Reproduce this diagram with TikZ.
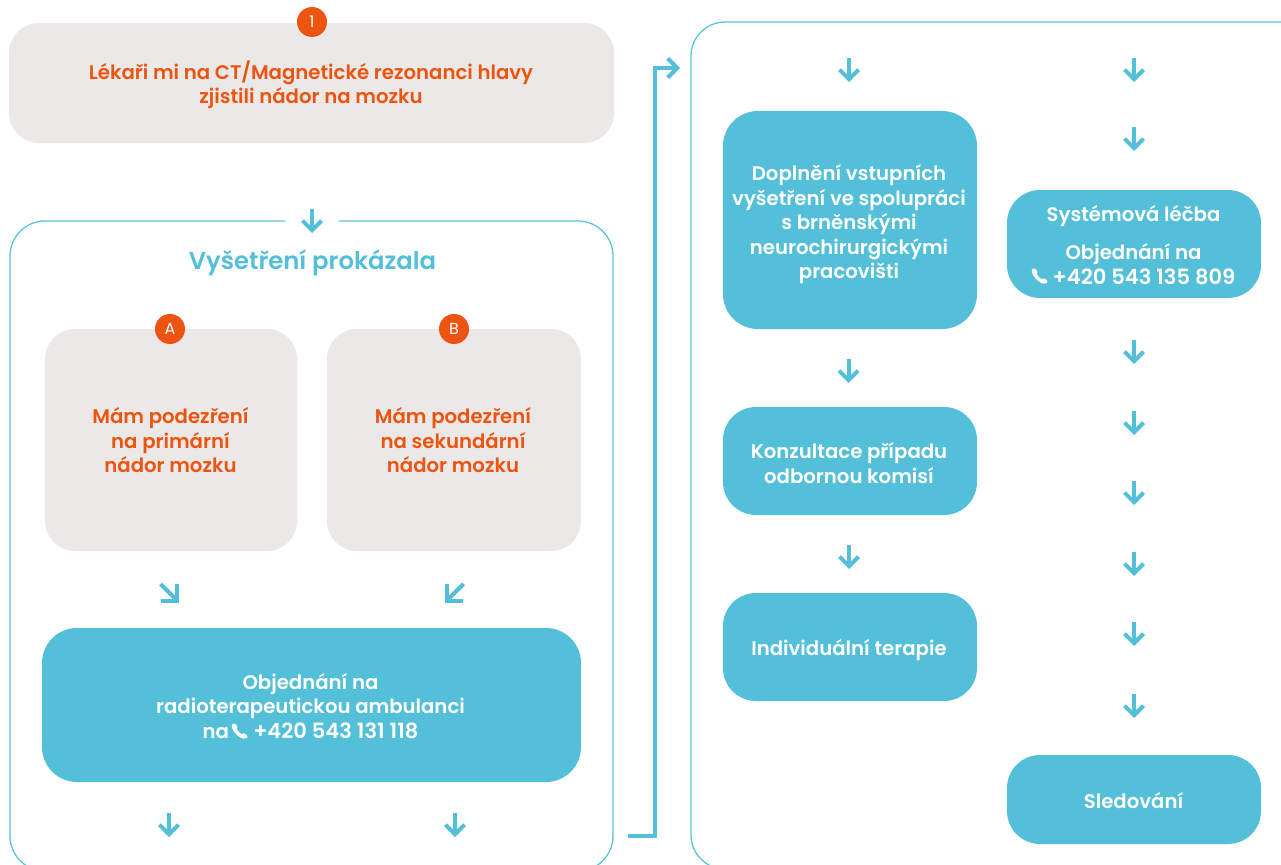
\documentclass[tikz,border=0pt]{standalone}
\usepackage{fontspec}
\setmainfont{Poppins SemiBold}
\newfontfamily\lightfont{Poppins}
\usetikzlibrary{arrows.meta}
\definecolor{teal}{HTML}{54BFD8}
\definecolor{framec}{HTML}{5CC4DC}
\definecolor{greybox}{HTML}{EBE9E7}
\definecolor{orangec}{HTML}{EE5411}
\newcommand{\numf}{\fontsize{21pt}{24.5pt}\selectfont}
\tikzset{
 graybx/.style={fill=greybox,rounded corners=30pt,anchor=center,inner sep=0pt},
 tealbx/.style={fill=teal,rounded corners=33pt,anchor=center,inner sep=0pt},
 graytxt/.style={align=center,text=orangec,font=\fontsize{19.7pt}{24.5pt}\selectfont,inner sep=0pt},
 tealtxt/.style={align=center,text=white,font=\fontsize{19.7pt}{24.5pt}\selectfont,inner sep=0pt},
 badge/.style={circle,fill=orangec,text=white,minimum size=30pt,inner sep=0pt,font=\lightfont\fontsize{16pt}{16pt}\selectfont},
 framep/.style={draw=framec,line width=1.3pt},
 arr/.style={draw=teal,line width=4pt,-{Straight Barb[length=9.5pt,width=19pt]}},
 arrd/.style={draw=teal,line width=4pt,-{Straight Barb[length=11.5pt,width=23pt]}},
}
\newcommand{\downarr}[3]{\coordinate (#1s) at (#2,#3); \coordinate (#1e) at (#2,#3+24); \draw[arr] (#1s) -- (#1e);}
\newcommand{\phoneicon}[2]{\begin{scope}[shift={(#1,#2)}]
 \fill[white] (-7.5,-7) .. controls (-6,-8) and (-5,-7.5) .. (-4,-6.5) -- (-2.6,-4) .. controls (-3,-3) and (-3.2,-2.6) .. (-3.2,-1.8)
 .. controls (-2.4,0) and (-0.2,2.2) .. (1.8,3.2) .. controls (2.4,3) and (2.9,2.4) .. (3.6,2.2) -- (6.6,3.8) .. controls (7.6,4.8) and (7.8,6) .. (6.8,7)
 .. controls (5,8.4) and (2,7.8) .. (-1,5.6) .. controls (-4.5,3) and (-7.4,-0.6) .. (-8,-3.6) .. controls (-8.3,-5) and (-8.2,-6.2) .. (-7.5,-7) -- cycle;
\end{scope}}
\begin{document}
\begin{tikzpicture}[x=1pt,y=-1pt]
\useasboundingbox (0,0) rectangle (1281,864);
\clip (0,0) rectangle (1281,864);
\fill[white] (0,0) rectangle (1281,864);
% frames
\coordinate (f1a) at (285,221);
\coordinate (f1b) at (339,221);
\draw[framep,rounded corners=35pt] (f1a) -- (10,221) -- (10,871) -- (613,871) -- (613,221) -- (f1b);
\draw[framep,rounded corners=34pt] (1330,22) -- (691,22) -- (691,869) -- (1330,869);
% left column
\node[graybx,minimum width=605pt,minimum height=120pt] (top) at (311.5,83) {};
\node[graytxt] (topt) at (311,85) {Lékaři mi na CT/Magnetické rezonanci hlavy\\zjistili nádor na mozku};
\node[badge] (b1) at (312,22) {1};
\downarr{a0}{312}{209}
\node[text=teal,font=\fontsize{24.3pt}{28pt}\selectfont,inner sep=0pt] (head) at (312.5,263) {Vyšetření prokázala};
\node[graybx,minimum width=252pt,minimum height=222pt] (A) at (171,440) {};
\node[graytxt] (At) at (170.5,440.5) {Mám podezření\\na primární\\nádor mozku};
\node[graybx,minimum width=254pt,minimum height=222pt] (B) at (454,440) {};
\node[graytxt] (Bt) at (453,440.5) {Mám podezření\\na sekundární\\nádor mozku};
\node[badge] (ba) at (170,329) {A};
\node[badge] (bb) at (454,329) {B};
\coordinate (das) at (160.5,584); \coordinate (dae) at (179,602.5);
\coordinate (dbs) at (463.5,584); \coordinate (dbe) at (445,602.5);
\draw[arrd] (das) -- (dae);
\draw[arrd] (dbs) -- (dbe);
\node[tealbx,rounded corners=35pt,minimum width=539pt,minimum height=154pt] (obj) at (311.5,705) {};
\node[tealtxt] (objt) at (310.5,706) {Objednání na\\radioterapeutickou ambulanci\\na \hspace{15pt} {\numf +420 543 131 118}};
\phoneicon{240}{731}
\downarr{a1}{169}{813}
\downarr{a2}{455}{813}
% connector
\coordinate (cs) at (628,836);
\coordinate (ce) at (680,68);
\draw[arr,rounded corners=0pt] (cs) -- (655,836) -- (655,68) -- (ce);
% middle column
\downarr{m0}{849}{58}
\node[tealbx,minimum width=254pt,minimum height=218pt,rounded corners=35pt] (m1) at (850,220) {};
\node[tealtxt] (m1t) at (849,224.5) {Doplnění vstupních\\vyšetření ve spolupráci\\s brněnskými\\neurochirurgickými\\pracovišti};
\downarr{m2}{848.5}{359}
\node[tealbx,minimum width=254pt,minimum height=108pt] (m3) at (850,461) {};
\node[tealtxt] (m3t) at (849,463) {Konzultace případu\\odbornou komisí};
\downarr{m4}{849}{545}
\node[tealbx,minimum width=254pt,minimum height=108pt] (m5) at (850,647) {};
\node[tealtxt] (m5t) at (849,650) {Individuální terapie};
% right column
\downarr{r0}{1134}{58}
\downarr{r1}{1134}{127}
\node[tealbx,minimum width=254pt,minimum height=108pt] (r2) at (1134,244) {};
\node[tealtxt] (r2t) at (1133.5,245) {Systémová léčba\\[14pt]Objednání na\\\hspace{21pt}{\numf +420 543 135 809}};
\phoneicon{1040}{276}
\downarr{r3}{1134}{340}
\downarr{r4}{1134}{411}
\downarr{r5}{1134}{481}
\downarr{r6}{1134}{552}
\downarr{r7}{1134}{622}
\downarr{r8}{1134}{694}
\node[tealbx,minimum width=254pt,minimum height=89pt] (r9) at (1134,799.5) {};
\node[tealtxt] (r9t) at (1133.5,800.5) {Sledování};
\end{tikzpicture}
\end{document}
